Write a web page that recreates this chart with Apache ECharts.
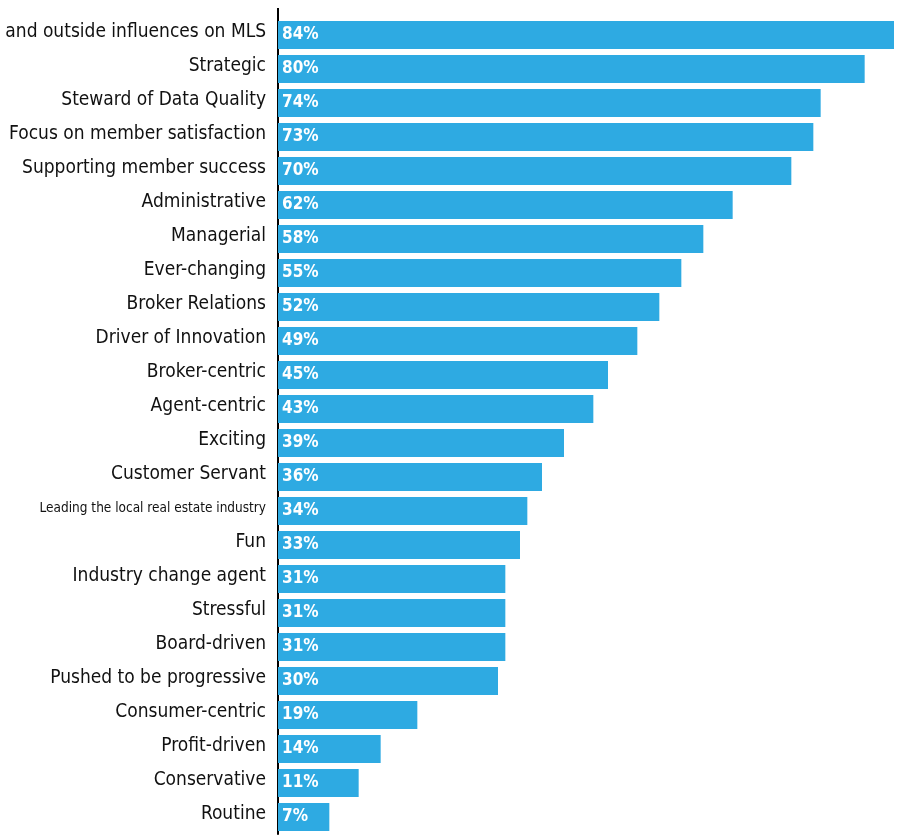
<!DOCTYPE html>
<html>
<head>
<meta charset="utf-8">
<style>
  html, body { margin: 0; padding: 0; background: #fff; }
  #chart { width: 899px; height: 835px; }
</style>
<script src="https://cdn.jsdelivr.net/npm/echarts@6/dist/echarts.min.js"></script>
</head>
<body>
<div id="chart"></div>
<script>
// Survey terms, listed top to bottom
const categories = [
  'and outside influences on MLS',
  'Strategic',
  'Steward of Data Quality',
  'Focus on member satisfaction',
  'Supporting member success',
  'Administrative',
  'Managerial',
  'Ever-changing',
  'Broker Relations',
  'Driver of Innovation',
  'Broker-centric',
  'Agent-centric',
  'Exciting',
  'Customer Servant',
  'Leading the local real estate industry',
  'Fun',
  'Industry change agent',
  'Stressful',
  'Board-driven',
  'Pushed to be progressive',
  'Consumer-centric',
  'Profit-driven',
  'Conservative',
  'Routine'
];

// Share of respondents (%)
const values = [84, 80, 74, 73, 70, 62, 58, 55, 52, 49, 45, 43, 39, 36, 34, 33, 31, 31, 31, 30, 19, 14, 11, 7];

// Long labels drawn in a smaller size
const smallLabels = ['Leading the local real estate industry'];

const FONT = '"DejaVu Sans Condensed", "Liberation Sans Narrow", sans-serif';

const chart = echarts.init(document.getElementById('chart'), null, { renderer: 'canvas' });

chart.setOption({
  animation: false,
  backgroundColor: '#ffffff',
  grid: { left: 278, right: 5, top: 18, height: 816, containLabel: false, outerBoundsMode: 'none' },
  xAxis: {
    type: 'value',
    min: 0,
    max: 84,
    show: false
  },
  yAxis: {
    type: 'category',
    data: categories,
    inverse: true,
    axisLine: { show: true, lineStyle: { color: '#000', width: 2 } },
    axisTick: { show: false },
    splitLine: { show: false },
    axisLabel: {
      margin: 12,
      color: '#111',
      fontFamily: FONT,
      fontSize: 19,
      padding: [0, 0, 5, 0],
      formatter: function (v) {
        return smallLabels.indexOf(v) >= 0 ? '{s|' + v + '}' : v;
      },
      rich: {
        s: { fontSize: 13.5, fontFamily: FONT, color: '#111' }
      }
    }
  },
  graphic: [{
    type: 'line',
    shape: { x1: 278, y1: 8, x2: 278, y2: 19 },
    style: { stroke: '#000', lineWidth: 2 },
    silent: true
  }],
  series: [{
    type: 'bar',
    data: values,
    barWidth: 28,
    itemStyle: { color: '#2EAAE2' },
    label: {
      show: true,
      position: 'insideLeft',
      distance: 4,
      color: '#fff',
      fontFamily: FONT,
      fontWeight: 'bold',
      fontSize: 17,
      formatter: '{c}%'
    }
  }]
});
</script>
</body>
</html>
